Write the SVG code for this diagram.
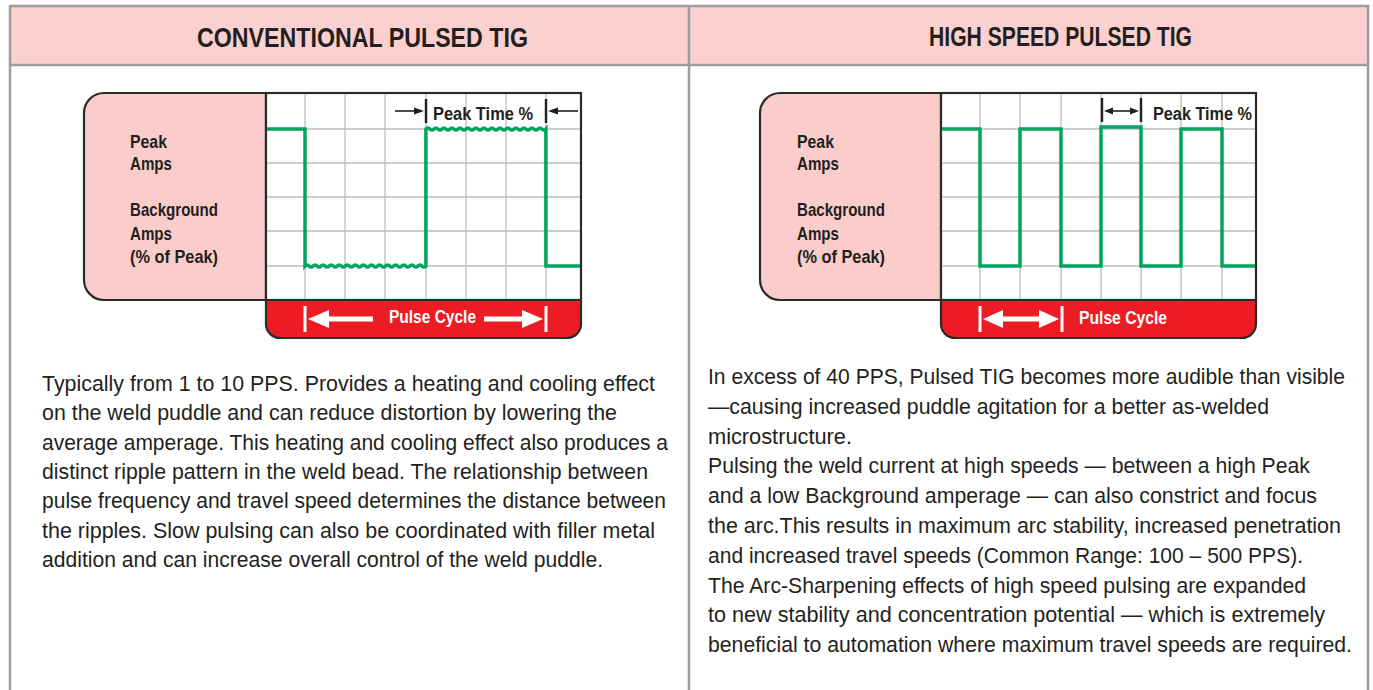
<svg xmlns="http://www.w3.org/2000/svg" width="1373" height="690" viewBox="0 0 1373 690">
<defs>
<style>
.frame{fill:none;stroke:#9d9d9f;stroke-width:2.5}
.hdr{font-family:"Liberation Sans",Arial,sans-serif;font-weight:bold;font-size:28px;fill:#231f20}
.body{font-family:"Liberation Sans",Arial,sans-serif;font-size:22px;fill:#231f20}
.lbl{font-family:"Liberation Sans",Arial,sans-serif;font-weight:bold;font-size:18.5px;fill:#231f20}
.pt{font-family:"Liberation Sans",Arial,sans-serif;font-weight:bold;font-size:17.5px;fill:#231f20}
.pc{font-family:"Liberation Sans",Arial,sans-serif;font-weight:bold;font-size:17.5px;fill:#ffffff}
.pink{fill:#facdcb;stroke:#2b2b2b;stroke-width:2.2}
.chart{fill:#ffffff;stroke:#2b2b2b;stroke-width:2.2}
.red{fill:#ed1c24;stroke:#2b2b2b;stroke-width:2.2}
.grid{stroke:#bdbdbf;stroke-width:1.3;fill:none}
.wave{fill:none;stroke:#00a65d;stroke-width:3.5;stroke-linejoin:miter}
.bar{stroke:#231f20;stroke-width:2.4}
.arr{stroke:#231f20;stroke-width:1.6}
.wbar{stroke:#ffffff;stroke-width:3}
.warr{stroke:#ffffff;stroke-width:5}
</style>
</defs>
<rect x="0" y="0" width="1373" height="690" fill="#ffffff"/>
<g id="frame">
<rect x="10" y="6" width="1358" height="59" fill="#fbd0cf"/>
<path class="frame" d="M10,690 V6 H1368 V690 M689,6 V690 M10,65 H1368"/>
</g>
<g id="header-left"><text class="hdr" x="197" y="47" textLength="331" lengthAdjust="spacingAndGlyphs">CONVENTIONAL PULSED TIG</text></g>
<g id="header-right"><text class="hdr" x="929" y="46" textLength="263" lengthAdjust="spacingAndGlyphs">HIGH SPEED PULSED TIG</text></g>

<g id="chart-left">
<path class="pink" d="M266,93 H104 A20,20 0 0 0 84,113 V280 A20,20 0 0 0 104,300 H266 Z"/>
<rect class="chart" x="266" y="93" width="315" height="207"/>
<path class="red" d="M266,300 H581 V324 A14,14 0 0 1 567,338 H280 A14,14 0 0 1 266,324 Z"/>
<path class="grid" d="M305,94 V299 M345,94 V299 M385,94 V299 M426,94 V299 M466,94 V299 M506,94 V299 M546,94 V299 M267,129 H580 M267,163 H580 M267,197 H580 M267,231 H580 M267,266 H580"/>
<text class="lbl" x="130" y="148" textLength="37" lengthAdjust="spacingAndGlyphs">Peak</text>
<text class="lbl" x="130" y="170" textLength="42" lengthAdjust="spacingAndGlyphs">Amps</text>
<text class="lbl" x="130" y="216" textLength="88" lengthAdjust="spacingAndGlyphs">Background</text>
<text class="lbl" x="130" y="240" textLength="42" lengthAdjust="spacingAndGlyphs">Amps</text>
<text class="lbl" x="130" y="263" textLength="88" lengthAdjust="spacingAndGlyphs">(% of Peak)</text>
<text class="pt" x="433" y="120" textLength="100" lengthAdjust="spacingAndGlyphs">Peak Time %</text>
<text class="pc" x="389" y="323" textLength="87" lengthAdjust="spacingAndGlyphs">Pulse Cycle</text>
</g>

<g id="chart-right">
<path class="pink" d="M941,93 H780 A20,20 0 0 0 760,113 V280 A20,20 0 0 0 780,300 H941 Z"/>
<rect class="chart" x="941" y="93" width="315" height="207"/>
<path class="red" d="M941,300 H1256 V324 A14,14 0 0 1 1242,338 H955 A14,14 0 0 1 941,324 Z"/>
<path class="grid" d="M980,94 V299 M1020,94 V299 M1061,94 V299 M1101,94 V299 M1141,94 V299 M1181,94 V299 M1222,94 V299 M942,129 H1255 M942,163 H1255 M942,197 H1255 M942,231 H1255 M942,266 H1255"/>
<text class="lbl" x="797" y="148" textLength="37" lengthAdjust="spacingAndGlyphs">Peak</text>
<text class="lbl" x="797" y="170" textLength="42" lengthAdjust="spacingAndGlyphs">Amps</text>
<text class="lbl" x="797" y="216" textLength="88" lengthAdjust="spacingAndGlyphs">Background</text>
<text class="lbl" x="797" y="240" textLength="42" lengthAdjust="spacingAndGlyphs">Amps</text>
<text class="lbl" x="797" y="263" textLength="88" lengthAdjust="spacingAndGlyphs">(% of Peak)</text>
<text class="pt" x="1153" y="120" textLength="99" lengthAdjust="spacingAndGlyphs">Peak Time %</text>
<text class="pc" x="1079" y="324" textLength="88" lengthAdjust="spacingAndGlyphs">Pulse Cycle</text>
</g>

<g id="connectors">
<path class="wave" d="M267,129 H305 V266 q2.02,-2.2 4.03,0 t4.03,0 t4.03,0 t4.03,0 t4.03,0 t4.03,0 t4.03,0 t4.03,0 t4.03,0 t4.03,0 t4.03,0 t4.03,0 t4.03,0 t4.03,0 t4.03,0 t4.03,0 t4.03,0 t4.03,0 t4.03,0 t4.03,0 t4.03,0 t4.03,0 t4.03,0 t4.03,0 t4.03,0 t4.03,0 t4.03,0 t4.03,0 t4.03,0 t4.03,0 V129 q2,-2.2 4,0 t4,0 t4,0 t4,0 t4,0 t4,0 t4,0 t4,0 t4,0 t4,0 t4,0 t4,0 t4,0 t4,0 t4,0 t4,0 t4,0 t4,0 t4,0 t4,0 t4,0 t4,0 t4,0 t4,0 t4,0 t4,0 t4,0 t4,0 t4,0 t4,0 V266 H580"/>
<path class="wave" d="M942,129 H980 V266 H1020 V129 H1061 V266 H1101 V127 H1141 V266 H1181 V129 H1222 V266 H1255"/>
<line class="bar" x1="426" y1="99" x2="426" y2="123"/>
<line class="bar" x1="546" y1="99" x2="546" y2="123"/>
<line class="arr" x1="395" y1="111" x2="416" y2="111"/>
<polygon points="424,111 414,107.5 414,114.5" fill="#231f20"/>
<line class="arr" x1="556" y1="111" x2="578" y2="111"/>
<polygon points="548,111 558,107.5 558,114.5" fill="#231f20"/>
<line class="bar" x1="1102" y1="98" x2="1102" y2="122"/>
<line class="bar" x1="1141" y1="98" x2="1141" y2="122"/>
<line class="arr" x1="1110" y1="111" x2="1133" y2="111"/>
<polygon points="1104,111 1113,107.5 1113,114.5" fill="#231f20"/>
<polygon points="1139,111 1130,107.5 1130,114.5" fill="#231f20"/>
<line class="wbar" x1="305" y1="306" x2="305" y2="332"/>
<line class="wbar" x1="546" y1="306" x2="546" y2="332"/>
<polygon points="308,319 329,310 329,328" fill="#ffffff"/>
<line class="warr" x1="328" y1="319" x2="373" y2="319"/>
<polygon points="543,319 522,310 522,328" fill="#ffffff"/>
<line class="warr" x1="484" y1="319" x2="523" y2="319"/>
<line class="wbar" x1="980" y1="306" x2="980" y2="332"/>
<line class="wbar" x1="1062" y1="306" x2="1062" y2="332"/>
<polygon points="983,319 1003,310 1003,328" fill="#ffffff"/>
<polygon points="1059,319 1039,310 1039,328" fill="#ffffff"/>
<line class="warr" x1="1002" y1="319" x2="1040" y2="319"/>
</g>

<g id="text-left">
<text class="body" x="42" y="391" textLength="613" lengthAdjust="spacingAndGlyphs">Typically from 1 to 10 PPS. Provides a heating and cooling effect</text>
<text class="body" x="42" y="420.3" textLength="575" lengthAdjust="spacingAndGlyphs">on the weld puddle and can reduce distortion by lowering the</text>
<text class="body" x="42" y="449.6" textLength="626" lengthAdjust="spacingAndGlyphs">average amperage. This heating and cooling effect also produces a</text>
<text class="body" x="42" y="478.9" textLength="606" lengthAdjust="spacingAndGlyphs">distinct ripple pattern in the weld bead. The relationship between</text>
<text class="body" x="42" y="508.2" textLength="624" lengthAdjust="spacingAndGlyphs">pulse frequency and travel speed determines the distance between</text>
<text class="body" x="42" y="537.5" textLength="613" lengthAdjust="spacingAndGlyphs">the ripples. Slow pulsing can also be coordinated with filler metal</text>
<text class="body" x="42" y="566.8" textLength="561" lengthAdjust="spacingAndGlyphs">addition and can increase overall control of the weld puddle.</text>
</g>

<g id="text-right">
<text class="body" x="708" y="384" textLength="637" lengthAdjust="spacingAndGlyphs">In excess of 40 PPS, Pulsed TIG becomes more audible than visible</text>
<text class="body" x="708" y="413.8" textLength="561" lengthAdjust="spacingAndGlyphs">—causing increased puddle agitation for a better as-welded</text>
<text class="body" x="708" y="443.6" textLength="144" lengthAdjust="spacingAndGlyphs">microstructure.</text>
<text class="body" x="708" y="473.4" textLength="602" lengthAdjust="spacingAndGlyphs">Pulsing the weld current at high speeds — between a high Peak</text>
<text class="body" x="708" y="503.2" textLength="609" lengthAdjust="spacingAndGlyphs">and a low Background amperage — can also constrict and focus</text>
<text class="body" x="708" y="533" textLength="633" lengthAdjust="spacingAndGlyphs">the arc.This results in maximum arc stability, increased penetration</text>
<text class="body" x="708" y="562.8" textLength="595" lengthAdjust="spacingAndGlyphs">and increased travel speeds (Common Range: 100 – 500 PPS).</text>
<text class="body" x="708" y="592.6" textLength="598" lengthAdjust="spacingAndGlyphs">The Arc-Sharpening effects of high speed pulsing are expanded</text>
<text class="body" x="708" y="622.4" textLength="617" lengthAdjust="spacingAndGlyphs">to new stability and concentration potential — which is extremely</text>
<text class="body" x="708" y="652.2" textLength="644" lengthAdjust="spacingAndGlyphs">beneficial to automation where maximum travel speeds are required.</text>
</g>
</svg>
